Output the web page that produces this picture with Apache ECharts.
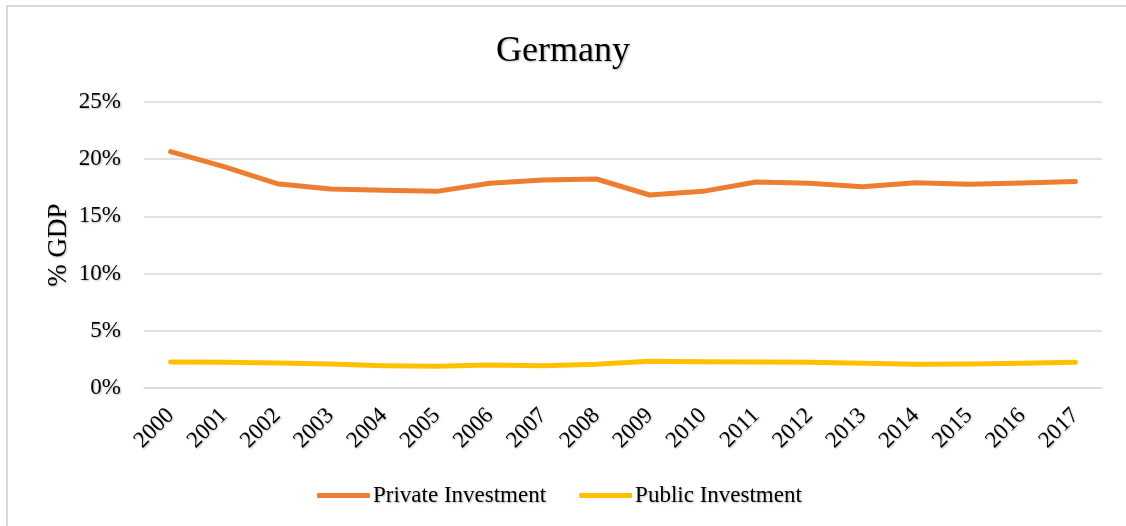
<!DOCTYPE html>
<html>
<head>
<meta charset="utf-8">
<script src="https://cdn.jsdelivr.net/npm/echarts@6/dist/echarts.min.js"></script>
<style>
  html, body { margin: 0; padding: 0; background: #ffffff; }
  #chart { width: 1126px; height: 526px; }
</style>
</head>
<body>
<div id="chart"></div>
<script>
// Investment as a share of GDP, Germany
const years = ['2000','2001','2002','2003','2004','2005','2006','2007','2008',
               '2009','2010','2011','2012','2013','2014','2015','2016','2017'];
const privateInvestment = [20.66, 19.35, 17.86, 17.4, 17.28, 17.19, 17.9, 18.18, 18.27,
                           16.87, 17.19, 18.0, 17.89, 17.6, 17.95, 17.8, 17.92, 18.06];
const publicInvestment = [2.27, 2.24, 2.18, 2.1, 1.95, 1.9, 2.0, 1.95, 2.07,
                          2.33, 2.3, 2.27, 2.24, 2.16, 2.07, 2.1, 2.16, 2.24];
const yTicks = { min: 0, max: 25, interval: 5 };

const serif = '"Liberation Serif", "DejaVu Serif", serif';
const shadow = { textShadowColor: 'rgba(0,0,0,0.28)', textShadowBlur: 2, textShadowOffsetX: 1, textShadowOffsetY: 1 };
const gridColor = '#d9d9d9';

const chart = echarts.init(document.getElementById('chart'), null, { renderer: 'canvas' });
chart.setOption({
  backgroundColor: '#ffffff',
  animation: false,
  graphic: [{
    type: 'rect',
    shape: { x: 7, y: 6, width: 1200, height: 600 },
    style: { fill: 'none', stroke: gridColor, lineWidth: 2 },
    silent: true
  }],
  title: {
    text: 'Germany',
    left: 'center',
    top: 29,
    textStyle: Object.assign({ fontFamily: serif, fontSize: 36, fontWeight: 'normal', color: '#000' }, shadow)
  },
  legend: {
    left: 312,
    top: 479,
    itemWidth: 53,
    itemHeight: 5,
    itemGap: 33,
    icon: 'roundRect',
    textStyle: Object.assign({ fontFamily: serif, fontSize: 23, color: '#000', padding: [0, 0, 0, -2] }, shadow),
    data: ['Private Investment', 'Public Investment']
  },
  grid: { left: 144, right: 24, top: 102, bottom: 138 },
  xAxis: {
    type: 'category',
    data: years,
    boundaryGap: true,
    axisLine: { lineStyle: { color: gridColor, width: 1.5 } },
    axisTick: { show: false },
    axisLabel: Object.assign({
      rotate: 45, fontFamily: serif, fontSize: 23, color: '#000', margin: 24, interval: 0
    }, shadow)
  },
  yAxis: {
    type: 'value',
    min: yTicks.min,
    max: yTicks.max,
    interval: yTicks.interval,
    name: '% GDP',
    nameLocation: 'middle',
    nameRotate: 90,
    nameGap: 72,
    nameMoveOverlap: false,
    nameTextStyle: Object.assign({ fontFamily: serif, fontSize: 27, color: '#000' }, shadow),
    axisLine: { show: false },
    axisTick: { show: false },
    splitLine: { lineStyle: { color: gridColor, width: 1.5 } },
    axisLabel: Object.assign({
      formatter: '{value}%', fontFamily: serif, fontSize: 23, color: '#000', margin: 23
    }, shadow)
  },
  series: [
    {
      name: 'Private Investment',
      type: 'line',
      data: privateInvestment,
      showSymbol: false,
      symbol: 'none',
      color: '#ED7D31',
      lineStyle: { width: 5, color: '#ED7D31', cap: 'round', join: 'round' }
    },
    {
      name: 'Public Investment',
      type: 'line',
      data: publicInvestment,
      showSymbol: false,
      symbol: 'none',
      color: '#FFC000',
      lineStyle: { width: 5, color: '#FFC000', cap: 'round', join: 'round' }
    }
  ]
});
</script>
</body>
</html>
